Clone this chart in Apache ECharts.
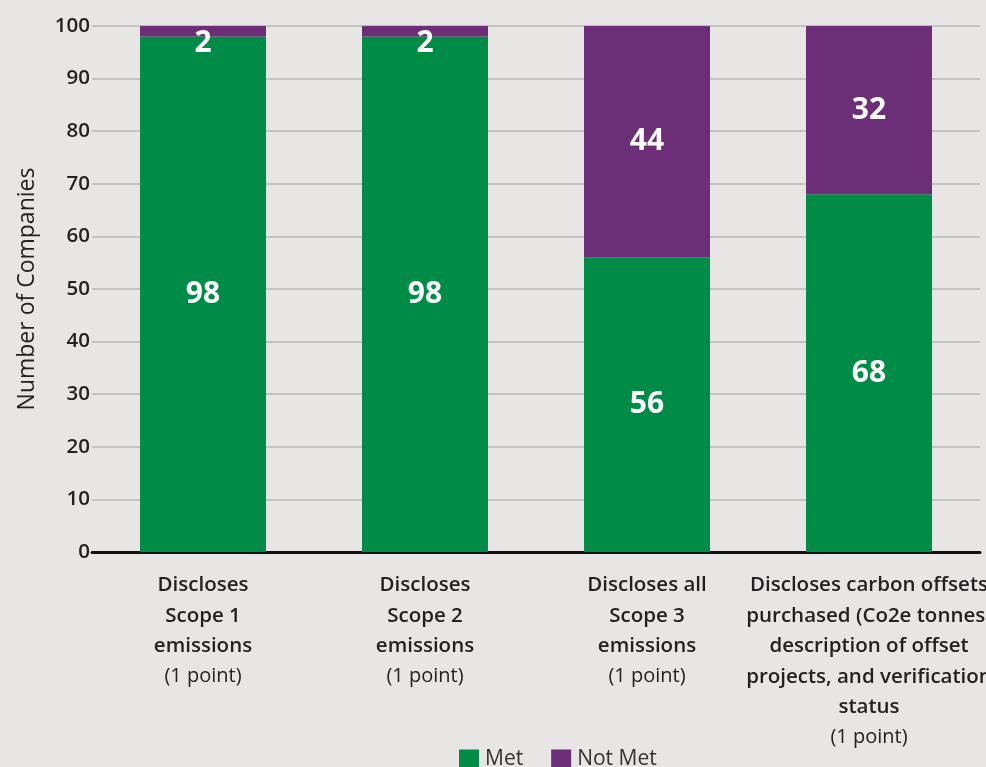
<!DOCTYPE html>
<html>
<head>
<meta charset="utf-8">
<script src="https://cdn.jsdelivr.net/npm/echarts@6/dist/echarts.min.js"></script>
<style>
  html, body { margin: 0; padding: 0; background: #e8e5e5; }
  #chart { width: 986px; height: 767px; }
</style>
</head>
<body>
<div id="chart"></div>
<script>
// Disclosure criteria: bold description lines, then the point value
const categoryLines = [
  ['Discloses', 'Scope 1', 'emissions'],
  ['Discloses', 'Scope 2', 'emissions'],
  ['Discloses all', 'Scope 3', 'emissions'],
  ['Discloses carbon offsets', 'purchased (Co2e tonnes)', 'description of offset', 'projects, and verification', 'status']
];
const categoryPoints = ['(1 point)', '(1 point)', '(1 point)', '(1 point)'];
const categories = categoryLines.map((l, i) => l.join(' ') + ' ' + categoryPoints[i]);

const metValues = [98, 98, 56, 68];
const notMetValues = [2, 2, 44, 32];

const yTicks = { min: 0, max: 100, interval: 10 };

const GREEN = '#008c46';
const PURPLE = '#6c2e76';
const FONT = 'Open Sans';

const chart = echarts.init(document.getElementById('chart'));

const valueLabel = {
  show: true,
  position: 'inside',
  color: '#ffffff',
  fontFamily: FONT,
  fontWeight: 'bold',
  fontSize: 30
};

chart.setOption({
  backgroundColor: '#e8e5e5',
  animation: false,
  grid: { left: 92, right: 6, top: 26, bottom: 215, outerBoundsMode: 'none', containLabel: false },
  legend: {
    top: 744,
    left: 454,
    itemWidth: 20,
    itemHeight: 20,
    itemGap: 28,
    icon: 'rect',
    textStyle: { fontFamily: FONT, fontSize: 21, color: '#333', padding: [0, 0, 0, 1] },
    data: ['Met', 'Not Met']
  },
  xAxis: {
    type: 'category',
    data: categories,
    axisLine: { lineStyle: { color: '#111', width: 3 } },
    axisTick: { show: false },
    axisLabel: {
      interval: 0,
      margin: 18,
      lineHeight: 30.5,
      formatter: (v, idx) => {
        const lines = categoryLines[idx].map(s => '{b|' + s + '}');
        lines.push('{n|' + categoryPoints[idx] + '}');
        return lines.join('\n');
      },
      rich: {
        b: { fontFamily: FONT, fontWeight: 600, fontSize: 20.5, color: '#222', lineHeight: 30.5 },
        n: { fontFamily: FONT, fontWeight: 'normal', fontSize: 20, color: '#222', lineHeight: 30.5 }
      }
    }
  },
  yAxis: {
    type: 'value',
    min: yTicks.min,
    max: yTicks.max,
    interval: yTicks.interval,
    name: 'Number of Companies',
    nameLocation: 'middle',
    nameGap: 53,
    nameTextStyle: { fontFamily: FONT, fontSize: 23, color: '#222', fontWeight: 500 },
    axisLine: { show: false },
    axisTick: { show: false },
    axisLabel: { margin: 2, fontFamily: FONT, fontWeight: 600, fontSize: 20.5, color: '#222' },
    splitLine: { lineStyle: { color: '#b8b6b6', width: 1.5 } }
  },
  series: [
    {
      name: 'Met',
      type: 'bar',
      stack: 'total',
      barWidth: 126,
      itemStyle: { color: GREEN },
      label: valueLabel,
      data: metValues
    },
    {
      name: 'Not Met',
      type: 'bar',
      stack: 'total',
      barWidth: 126,
      itemStyle: { color: PURPLE },
      label: valueLabel,
      // thin segments carry their label just below the segment top
      data: notMetValues.map(v => v < 5
        ? { value: v, label: { position: 'insideTop', distance: 0, offset: [0, 2] } }
        : v)
    }
  ]
});
</script>
</body>
</html>
